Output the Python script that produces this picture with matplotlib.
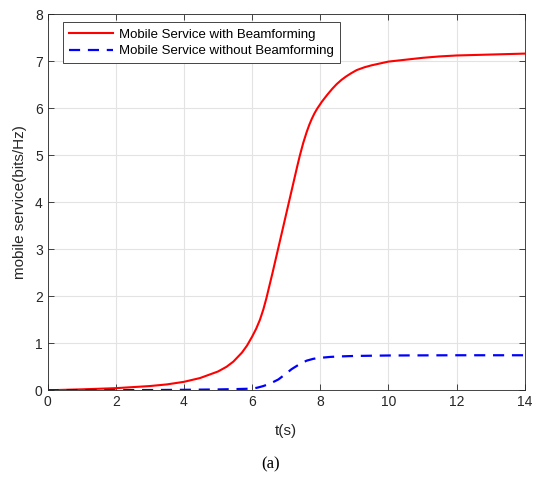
import numpy as np
import matplotlib
matplotlib.use('Agg')
import matplotlib.pyplot as plt

# values
t_with = [0, 1, 2, 3, 3.5, 4, 4.47, 5.0, 5.25, 5.45, 5.7, 5.85, 6.0, 6.12,
          6.23, 6.33, 6.42, 6.51, 6.6, 6.68, 6.76, 6.85, 6.93, 7.0, 7.08, 7.16,
          7.24, 7.32, 7.40, 7.5, 7.6, 7.68, 7.75, 7.83, 7.91, 8.05, 8.2, 8.35,
          8.48, 8.62, 8.75, 8.9, 9.07, 9.3, 9.5, 9.75, 10, 10.5, 11, 11.5, 12,
          13, 14]
with_bf = [0.0, 0.02, 0.045, 0.09, 0.125, 0.18, 0.26, 0.4, 0.5, 0.61, 0.8,
           0.95, 1.14, 1.31, 1.5, 1.72, 1.96, 2.23, 2.5, 2.75, 3.0, 3.28, 3.53,
           3.75, 4.0, 4.25, 4.5, 4.75, 4.99, 5.26, 5.49, 5.65, 5.77, 5.89, 5.99,
           6.14, 6.28, 6.41, 6.51, 6.6, 6.67, 6.74, 6.81, 6.87, 6.91, 6.95,
           6.99, 7.03, 7.07, 7.1, 7.12, 7.14, 7.16]

t_without = [0, 2, 3, 4, 5, 5.5, 6, 6.15, 6.33, 6.55, 6.77, 6.97, 7.16, 7.38,
             7.6, 7.8, 8, 8.3, 8.58, 9, 10, 12, 14]
without_bf = [0.0, 0.003, 0.005, 0.01, 0.018, 0.025, 0.035, 0.055, 0.09, 0.15,
              0.23, 0.34, 0.45, 0.55, 0.63, 0.67, 0.69, 0.71, 0.72, 0.73,
              0.74, 0.745, 0.745]

xticks = [0, 2, 4, 6, 8, 10, 12, 14]
yticks = [0, 1, 2, 3, 4, 5, 6, 7, 8]

plt.rcParams['font.family'] = ['Liberation Sans', 'DejaVu Sans']
dark = '#262626'

fig = plt.figure(figsize=(5.41, 4.78), dpi=100)
ax = fig.add_axes([0.088, 0.1835, 0.882, 0.787])

ax.plot(t_with, with_bf, '-', c='#ff0000', lw=1.5,
        label='Mobile Service with Beamforming')
ax.plot(t_without, without_bf, '--', c='#0000ff', lw=1.6, dashes=(5, 3.5),
        label='Mobile Service without Beamforming')

ax.set_xlim(0, 14)
ax.set_ylim(0, 8)
ax.set_xticks(xticks)
ax.set_yticks(yticks)
ax.grid(color='#e3e3e3', linewidth=0.8)
ax.set_axisbelow(True)
ax.tick_params(direction='in', top=True, right=True, labelsize=10,
               colors=dark, length=4, width=0.6)
for s in ax.spines.values():
    s.set_color(dark)
    s.set_linewidth(0.6)

ax.set_xlabel('t(s)', fontsize=11, color=dark, labelpad=11)
ax.set_ylabel('mobile service(bits/Hz)', fontsize=11, color=dark, labelpad=6)

leg = ax.legend(loc='upper left', bbox_to_anchor=(0.033, 0.978), fontsize=9.5,
                fancybox=False, framealpha=1, edgecolor=dark,
                handlelength=3.3, borderpad=0.45, labelspacing=0.35,
                handletextpad=0.5, borderaxespad=0)
leg.get_frame().set_linewidth(0.6)

fig.text(0.5, 0.012, '(a)', ha='center', va='bottom', fontsize=12,
         family='Liberation Serif')

fig.savefig('out.png', dpi=100)
